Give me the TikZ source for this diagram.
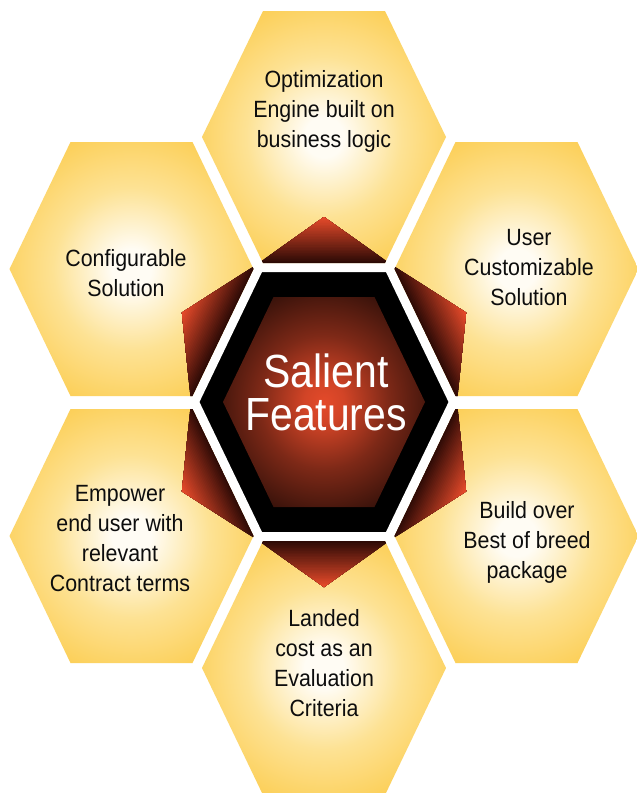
\documentclass[tikz,border=0pt]{standalone}
\usepackage{fontspec}
\setmainfont{Liberation Sans}
\newfontfamily\labfont[FakeStretch=0.91]{Liberation Sans}
\newfontfamily\titfont[FakeStretch=0.88]{Liberation Sans}
\usetikzlibrary{calc}

\definecolor{hexedge}{RGB}{251,189,34}
\definecolor{hexgold}{RGB}{252,204,78}
\definecolor{hexmid}{RGB}{253,226,148}
\definecolor{hexcore}{RGB}{255,252,244}
\definecolor{redtip}{RGB}{229,74,42}
\definecolor{redbase}{RGB}{42,9,5}
\definecolor{coreRed}{RGB}{228,74,42}
\definecolor{ringbrown}{RGB}{44,12,8}

\pgfdeclareradialshading{honey}{\pgfpoint{0bp}{0bp}}{%
  color(0bp)=(hexcore); color(4bp)=(hexcore); color(16bp)=(hexmid);
  color(30bp)=(hexgold); color(42bp)=(hexedge); color(71bp)=(hexedge)}
\pgfdeclareradialshading{ring}{\pgfpoint{0bp}{0bp}}{%
  color(0bp)=(black); color(40bp)=(black); color(50bp)=(ringbrown); color(71bp)=(ringbrown)}
\pgfdeclareradialshading{corered}{\pgfpoint{0bp}{0bp}}{%
  color(0bp)=(coreRed); color(5bp)=(coreRed!92!black); color(16bp)=(coreRed!55!black);
  color(28bp)=(coreRed!25!black); color(40bp)=(coreRed!8!black); color(50bp)=(black); color(71bp)=(black)}

% flat-top hexagon: centre (#1,#2), half-width #3, half-height #4
\newcommand\hexat[4]{({#1-#3},{#2}) -- ({#1-#3/2},{#2-#4}) -- ({#1+#3/2},{#2-#4}) -- ({#1+#3},{#2}) -- ({#1+#3/2},{#2+#4}) -- ({#1-#3/2},{#2+#4}) -- cycle}

\tikzset{
  honeyhex/.style={shading=honey},
  lab/.style={font=\labfont\fontsize{23.5}{30}\selectfont, align=center, inner sep=0pt, text=black!95},
  ttl/.style={font=\titfont\fontsize{46.5}{43}\selectfont, align=center, inner sep=0pt, text=white},
}

\begin{document}
\begin{tikzpicture}[x=1pt,y=-1pt]
\useasboundingbox (0,0) rectangle (637,793);
\fill[white] (0,0) rectangle (637,793);

% outer honeycomb cells
\shade[honeyhex] \hexat{324}{137}{122}{126};
\shade[honeyhex] \hexat{131.5}{269}{122}{127};
\shade[honeyhex] \hexat{516.5}{269}{122}{127};
\shade[honeyhex] \hexat{131.5}{536}{122}{127};
\shade[honeyhex] \hexat{516.5}{536}{122}{127};
\shade[honeyhex] \hexat{324}{668}{122}{127};

% red star points, clipped to the outer cells
\begin{scope}
\clip \hexat{324}{137}{122}{126} \hexat{131.5}{269}{122}{127} \hexat{516.5}{269}{122}{127}
      \hexat{131.5}{536}{122}{127} \hexat{516.5}{536}{122}{127} \hexat{324}{668}{122}{127};
\foreach \ax/\ay/\bx/\by/\cx/\cy in {
  324/217/257.5/264/390.5/264,
  181.9/312.6/191/402/257.5/264,
  466.1/312.6/390.5/264/457/402,
  181.9/491.4/191/402/257.5/540,
  466.1/491.4/457/402/390.5/540,
  324/587/257.5/540/390.5/540}{
  \foreach \i in {0,...,29}{
    \pgfmathsetmacro\stp{\i/30}
    \pgfmathsetmacro\pp{100*\i/29}
    \fill[redtip!\pp!redbase] ($(\bx,\by)!\stp!(\ax,\ay)$) -- ($(\cx,\cy)!\stp!(\ax,\ay)$) -- (\ax,\ay) -- cycle;
  }
}
\end{scope}

% central cell
\shadedraw[shading=ring, draw=white, line width=8pt] \hexat{324}{402}{129}{134};
\shade[shading=corered] \hexat{324}{402}{101}{105};

% texts
\node[ttl] (centre) at (326,392) {Salient\\Features};
\node[lab] (opt) at (324,111) {Optimization\\Engine built on\\business logic};
\node[lab] (conf) at (126,273.5) {Configurable\\Solution};
\node[lab] (user) at (529,267.5) {User\\Customizable\\Solution};
\node[lab] (emp) at (120,538.5) {Empower\\end user with\\relevant\\Contract terms};
\node[lab] (build) at (527,542) {Build over\\Best of breed\\package};
\node[lab] (land) at (324,663.5) {Landed\\cost as an\\Evaluation\\Criteria};
\end{tikzpicture}
\end{document}
